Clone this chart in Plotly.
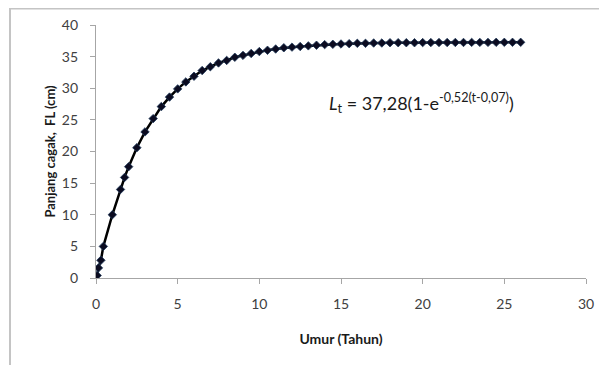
import plotly.graph_objects as go

# Data: age (years) and fork length (cm)
umur = [0.07, 0.15, 0.3, 0.45, 1.0, 1.5, 1.75, 2.0, 2.5, 3.0, 3.5, 4.0, 4.5, 5.0,
        5.5, 6.0, 6.5, 7.0, 7.5, 8.0, 8.5, 9.0, 9.5, 10.0, 10.5, 11.0, 11.5, 12.0,
        12.5, 13.0, 13.5, 14.0, 14.5, 15.0, 15.5, 16.0, 16.5, 17.0, 17.5, 18.0,
        18.5, 19.0, 19.5, 20.0, 20.5, 21.0, 21.5, 22.0, 22.5, 23.0, 23.5, 24.0,
        24.5, 25.0, 25.5, 26.0]
panjang = [0.4, 1.6, 2.8, 5.0, 10.0, 14.0, 15.9, 17.6, 20.6, 23.1, 25.2, 27.1, 28.6, 29.9,
           31.0, 31.9, 32.8, 33.4, 34.0, 34.4, 34.9, 35.2, 35.5, 35.8, 36.0, 36.2, 36.4, 36.5,
           36.6, 36.7, 36.8, 36.9, 36.95, 37.0, 37.05, 37.1, 37.1, 37.15, 37.15, 37.2,
           37.2, 37.2, 37.2, 37.22, 37.22, 37.23, 37.23, 37.24, 37.24, 37.25, 37.25, 37.25,
           37.26, 37.26, 37.26, 37.26]

x_ticks = [0, 5, 10, 15, 20, 25, 30]
y_ticks = [0, 5, 10, 15, 20, 25, 30, 35, 40]

FONT = "Lato, 'Open Sans', sans-serif"

fig = go.Figure()
fig.add_trace(go.Scatter(
    x=umur, y=panjang, mode="lines+markers",
    line=dict(color="#000000", width=2.5),
    marker=dict(symbol="diamond", size=6.5, color="#0b0b20",
                line=dict(color="#1f3a5a", width=0.8)),
    showlegend=False, hoverinfo="x+y"))

axis_common = dict(
    showgrid=False, zeroline=False, showline=True, linecolor="#a6a6a6", linewidth=1.2,
    ticks="outside", ticklen=5, tickcolor="#a6a6a6", tickwidth=1.2, automargin=False,
    tickfont=dict(family=FONT, size=14, color="#404040"), fixedrange=True)

fig.update_xaxes(range=[0, 30], tickvals=x_ticks, ticklabelstandoff=8, **axis_common,
                 title=dict(text="<b>Umur (Tahun)</b>", standoff=23,
                            font=dict(family=FONT, size=14, color="#1a1a1a")))
fig.update_yaxes(range=[0, 40], tickvals=y_ticks, ticklabelstandoff=9, **axis_common,
                 title=dict(text="<b>Panjang cagak,  FL (cm)</b>", standoff=3,
                            font=dict(family=FONT, size=13, color="#1a1a1a")))

fig.add_annotation(
    x=0.471, y=0.69, xref="paper", yref="paper", xanchor="left", yanchor="middle",
    text="<i>L</i><sub>t</sub> = 37,28(1-e<sup>-0,52(t-0,07)</sup>)", showarrow=False,
    font=dict(family=FONT, size=18, color="#1a1a1a"))

# outer chart frame (left and top edges visible)
fig.add_shape(type="rect", xref="paper", yref="paper",
              x0=-0.1755, x1=1.1, y0=-0.5, y1=1.065,
              line=dict(color="#c4c4c4", width=2), fillcolor="rgba(0,0,0,0)", layer="below")

fig.update_layout(
    width=599, height=357,
    margin=dict(l=88, r=21, t=17, b=87),
    paper_bgcolor="white", plot_bgcolor="white",
    font=dict(family=FONT))

fig.write_html("out.html")
